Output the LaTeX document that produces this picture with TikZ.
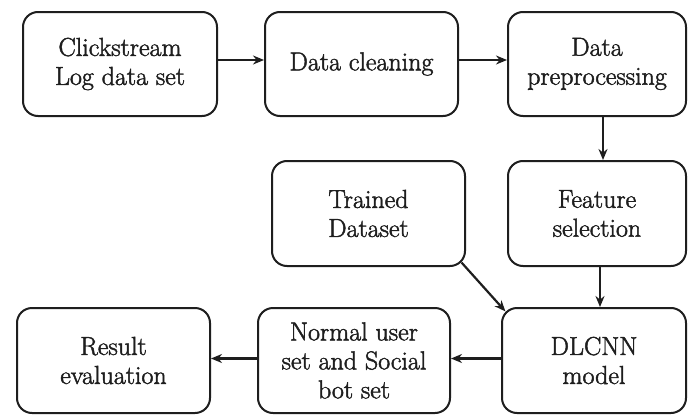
\documentclass[tikz,border=0pt]{standalone}
\usepackage{fontspec}
\usetikzlibrary{arrows.meta}
\definecolor{ink}{HTML}{1E1E1E}
\newcommand{\heavytext}{\special{pdf:literal direct 2 Tr 0.45 w}}
\begin{document}
\begin{tikzpicture}[x=1pt,y=-1pt,
  box/.style={draw=ink,line width=2pt,rounded corners=15pt,rectangle,
    align=center,inner sep=0pt,minimum height=104pt,text=ink,
    font=\rmfamily\fontsize{26}{29}\selectfont\heavytext},
  arr/.style={draw=ink,line width=2.2pt,-{Stealth[length=11pt,width=9pt]}}]
\useasboundingbox (0,0) rectangle (688,415);
\fill[white] (0,0) rectangle (688,415);
\node[box,minimum width=194pt] (n1) at (120,64) {Clickstream\\Log data set};
\node[box,minimum width=193pt] (n2) at (361.5,64) {Data cleaning};
\node[box,minimum width=178pt] (n3) at (597,64) {Data\\preprocessing};
\node[box,minimum width=193pt,minimum height=105pt] (n4) at (368.5,213.5) {Trained\\Dataset};
\node[box,minimum width=178pt,minimum height=105pt] (n5) at (597,213.5) {Feature\\selection};
\node[box,minimum width=193pt,minimum height=105pt] (n6) at (113.5,360.5) {Result\\evaluation};
\node[box,minimum width=192pt,minimum height=105pt] (n7) at (354,360.5) {Normal user\\set and Social\\bot set};
\node[box,minimum width=184pt,minimum height=105pt] (n8) at (594,360.5) {DLCNN\\model};
\draw[arr] ([yshift=4pt]n1.east) -- ([yshift=4pt]n2.west);
\draw[arr] ([yshift=4pt]n2.east) -- ([yshift=4pt]n3.west);
\draw[arr] ([xshift=6pt]n3.south) -- ([xshift=6pt]n5.north);
\draw[arr] ([xshift=3pt]n5.south) -- ([xshift=6pt]n8.north);
\draw[arr] ([shift={(-4.4pt,4.4pt)}]n4.south east) -- ([shift={(4.4pt,-4.4pt)}]n8.north west);
\draw[arr] ([yshift=2pt]n8.west) -- ([yshift=2pt]n7.east);
\draw[arr] ([yshift=2pt]n7.west) -- ([yshift=2pt]n6.east);
\end{tikzpicture}
\end{document}
